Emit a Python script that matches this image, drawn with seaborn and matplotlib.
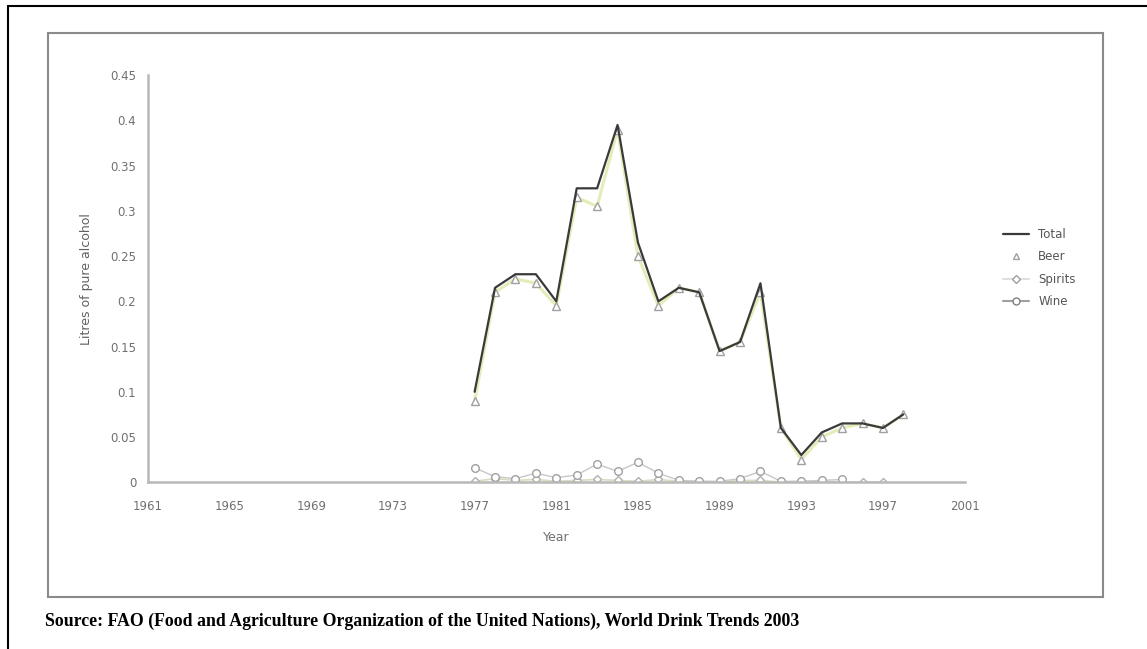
import numpy as np
import pandas as pd
import matplotlib
matplotlib.use("Agg")
import matplotlib.pyplot as plt
import seaborn as sns
from matplotlib.patches import Rectangle
from matplotlib.lines import Line2D

sns.set_style("white")
plt.rcParams['font.family'] = ['DejaVu Sans']

years_total = list(range(1977, 1999))
total = [0.10, 0.215, 0.23, 0.23, 0.20, 0.325, 0.325, 0.395, 0.265, 0.20, 0.215,
         0.21, 0.145, 0.155, 0.22, 0.06, 0.03, 0.055, 0.065, 0.065, 0.06, 0.075]
beer = [0.09, 0.21, 0.225, 0.22, 0.195, 0.315, 0.305, 0.39, 0.25, 0.195, 0.215,
        0.21, 0.145, 0.155, 0.21, 0.06, 0.025, 0.05, 0.06, 0.065, 0.06, 0.075]
years_spirits = list(range(1977, 1998))
spirits = [0.001, 0.004, 0.002, 0.003, 0.001, 0.002, 0.003, 0.002, 0.001, 0.003, 0.001,
           0.001, 0.0, 0.002, 0.002, 0.0, 0.001, 0.001, 0.0, 0.0, 0.0]
years_wine = list(range(1977, 1996))
wine = [0.016, 0.006, 0.004, 0.01, 0.005, 0.008, 0.02, 0.012, 0.022, 0.01, 0.002,
        0.001, 0.001, 0.004, 0.012, 0.001, 0.001, 0.002, 0.003]

x_ticks = list(range(1961, 2002, 4))
y_ticks = [0, 0.05, 0.1, 0.15, 0.2, 0.25, 0.3, 0.35, 0.4, 0.45]
y_labels = ['0', '0.05', '0.1', '0.15', '0.2', '0.25', '0.3', '0.35', '0.4', '0.45']

fig = plt.figure(figsize=(11.47, 6.49), dpi=100)
ax = fig.add_axes([0.129, 0.257, 0.712, 0.627])

beer_line = '#e6ecb8'
sns.lineplot(x=years_total, y=beer, ax=ax, color=beer_line, linewidth=2.2,
             marker='^', markersize=6, markerfacecolor='white',
             markeredgecolor='#a0a0a0', markeredgewidth=1)
sns.lineplot(x=years_total, y=total, ax=ax, color='#3a3a3a', linewidth=1.6)
sns.lineplot(x=years_spirits, y=spirits, ax=ax, color='#d8dcc0', linewidth=1.2,
             marker='D', markersize=4.5, markerfacecolor='white',
             markeredgecolor='#b0b0b0', markeredgewidth=1)
sns.lineplot(x=years_wine, y=wine, ax=ax, color='#c8c8c8', linewidth=1,
             marker='o', markersize=5.5, markerfacecolor='white',
             markeredgecolor='#a0a0a0', markeredgewidth=1)

ax.set_xlim(1961, 2001)
ax.set_ylim(0, 0.45)
ax.set_xticks(x_ticks)
ax.set_yticks(y_ticks)
ax.set_yticklabels(y_labels)
ax.tick_params(axis='both', colors='#aaaaaa', labelcolor='#707070', labelsize=8.5,
               direction='inout', length=5, width=1)
for s in ['top', 'right']:
    ax.spines[s].set_visible(False)
for s in ['left', 'bottom']:
    ax.spines[s].set_color('#b8b8b8')
    ax.spines[s].set_linewidth(1.8)
ax.tick_params(axis='x', pad=10)
ax.tick_params(axis='y', pad=6)
ax.set_xlabel('Year', color='#707070', fontsize=9, labelpad=13)
ax.set_ylabel('Litres of pure alcohol', color='#606060', fontsize=9, labelpad=12)

handles = [
    Line2D([], [], color='#3a3a3a', linewidth=1.6),
    Line2D([], [], color='white', marker='^', markersize=5, markerfacecolor='white',
           markeredgecolor='#a0a0a0'),
    Line2D([], [], color='#e0e0e0', marker='D', markersize=4, markerfacecolor='white',
           markeredgecolor='#a0a0a0'),
    Line2D([], [], color='#a0a0a0', marker='o', markersize=5, markerfacecolor='white',
           markeredgecolor='#808080'),
]
leg = fig.legend(handles, ['Total', 'Beer', 'Spirits', 'Wine'],
                 loc='upper left', bbox_to_anchor=(0.865, 0.665), frameon=False,
                 fontsize=8.5, handlelength=2.2, labelspacing=0.8)
for t in leg.get_texts():
    t.set_color('#555555')

# chart area box and outer page frame
fig.patches.append(Rectangle((48 / 1147, 1 - 597 / 649), (1103 - 48) / 1147, (597 - 33) / 649,
                             transform=fig.transFigure, fill=False,
                             edgecolor='#8a8a8a', linewidth=1.5))
fig.add_artist(Line2D([8 / 1147, 8 / 1147], [0, 1 - 6 / 649], transform=fig.transFigure,
                      color='black', linewidth=1.5))
fig.add_artist(Line2D([8 / 1147, 1], [1 - 6 / 649, 1 - 6 / 649], transform=fig.transFigure,
                      color='black', linewidth=1.5))

fig.text(45 / 1147, 1 - 621 / 649,
         'Source: FAO (Food and Agriculture Organization of the United Nations), World Drink Trends 2003',
         family='Liberation Serif', fontweight='bold', fontsize=12.8, va='center', ha='left',
         color='black')

fig.savefig('out.png', dpi=100)
